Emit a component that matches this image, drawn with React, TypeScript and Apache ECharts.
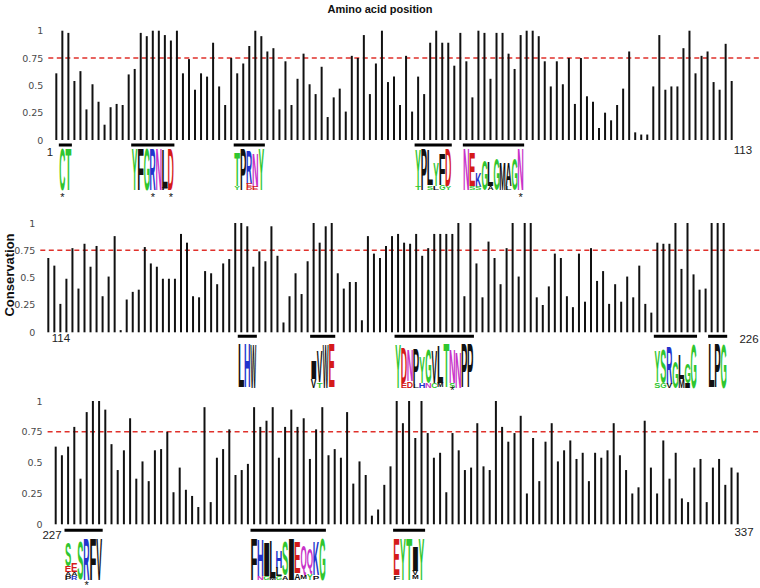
import React, { useEffect, useRef } from "react";
import * as echarts from "echarts";

const titleText = "Amino acid position";
const yAxisName = "Conservation";
const threshold = 0.75;

const panel1Start = 1;
const panel1Values = [
  0.61, 1.0, 0.98, 0.54, 0.63, 0.28, 0.51, 0.35, 0.14, 0.3,
  0.33, 0.32, 0.6, 0.65, 0.98, 0.95, 1.0, 1.0, 0.96, 0.91,
  1.0, 0.61, 0.74, 0.46, 0.61, 0.58, 0.89, 0.49, 0.32, 0.75,
  0.61, 0.7, 0.86, 1.0, 0.95, 0.81, 0.84, 0.28, 0.72, 0.32,
  0.56, 0.79, 0.51, 0.42, 0.67, 0.21, 0.39, 0.47, 0.26, 0.77,
  0.75, 0.96, 0.42, 0.7, 1.0, 0.53, 0.58, 0.32, 0.77, 0.26,
  0.58, 0.42, 0.89, 1.0, 0.89, 0.89, 0.68, 0.98, 0.72, 0.39,
  1.0, 0.98, 0.56, 0.98, 0.98, 0.79, 0.65, 0.96, 1.0, 1.0,
  0.95, 0.72, 0.49, 0.72, 0.51, 0.75, 0.33, 0.75, 0.4, 0.35,
  0.11, 0.25, 0.18, 0.32, 0.47, 0.81, 0.07, 0.05, 0.05, 0.49,
  0.96, 0.46, 0.49, 0.49, 0.84, 1.0, 0.61, 0.77, 0.81, 0.53,
  0.46, 0.88, 0.54,
];

const panel2Start = 114;
const panel2Values = [
  0.68, 0.61, 0.26, 0.49, 0.77, 0.4, 0.81, 0.6, 0.79, 0.33,
  0.51, 0.88, 0.02, 0.3, 0.37, 0.39, 0.78, 0.63, 0.6, 0.49,
  0.49, 0.49, 0.9, 0.82, 0.33, 0.32, 0.56, 0.54, 0.44, 0.63,
  0.67, 1.0, 1.0, 0.97, 0.6, 0.74, 0.65, 0.97, 0.7, 0.09,
  0.33, 0.54, 0.35, 0.65, 1.0, 0.82, 0.97, 1.0, 0.54, 0.4,
  0.46, 0.46, 0.11, 0.88, 0.72, 0.68, 0.79, 0.88, 0.9, 0.82,
  0.81, 0.9, 0.7, 0.77, 0.9, 0.9, 0.9, 0.9, 1.0, 0.33,
  1.0, 0.63, 0.32, 0.83, 0.68, 0.44, 0.77, 1.0, 0.51, 1.0,
  1.0, 0.32, 0.25, 0.42, 0.72, 0.68, 0.33, 0.23, 0.72, 0.28,
  0.77, 0.47, 0.56, 0.26, 0.44, 0.28, 0.51, 0.32, 0.61, 0.26,
  0.18, 0.82, 0.81, 0.81, 1.0, 0.58, 1.0, 0.53, 0.39, 0.4,
  1.0, 1.0, 1.0,
];

const panel3Start = 227;
const panel3Values = [
  0.63, 0.56, 0.63, 0.79, 0.37, 0.91, 1.0, 1.0, 0.93, 0.65,
  0.44, 0.6, 0.86, 0.37, 0.51, 0.35, 0.6, 0.61, 0.75, 0.26,
  0.46, 0.28, 0.23, 0.14, 0.95, 0.18, 0.54, 0.61, 0.77, 0.4,
  0.44, 0.49, 0.95, 0.79, 0.84, 0.95, 0.54, 0.79, 0.93, 0.79,
  0.86, 0.53, 0.77, 0.95, 0.56, 0.61, 0.54, 0.91, 0.33, 0.51,
  0.4, 0.07, 0.12, 0.32, 0.47, 1.0, 0.82, 1.0, 0.7, 1.0,
  0.74, 0.54, 0.58, 0.26, 0.74, 0.6, 0.44, 0.46, 0.82, 0.47,
  0.44, 1.0, 0.79, 0.67, 0.74, 0.88, 0.25, 0.7, 0.35, 0.67,
  0.82, 0.51, 0.6, 0.68, 0.53, 0.58, 0.35, 0.58, 0.54, 0.6,
  0.82, 0.56, 0.44, 0.25, 0.3, 0.84, 0.46, 0.25, 0.68, 0.37,
  0.58, 0.21, 0.18, 0.46, 0.53, 0.18, 0.46, 0.53, 0.32, 0.46,
  0.42,
];

// Sequence logos: panel index, first residue, stacked letters per column (top to bottom, % of full height)
const logos = [
  { panel: 0, start: 2, cols: ["C100", "T100"] },
  { panel: 0, start: 14, cols: ["Y100", "F100", "G100", "R100", "N100", "L92F5", "D100"] },
  { panel: 0, start: 31, cols: ["T80Y8", "P100", "R80E8D6", "N80E8", "Y100"] },
  { panel: 0, start: 61, cols: ["Y85T8", "P100", "L82S10", "Y55L10", "F75G12", "D88Y8"] },
  { panel: 0, start: 69, cols: ["N100", "E80S8", "K35S8", "G70", "L60A8", "G75", "M65", "A55L10", "G75", "N100"] },
  { panel: 1, start: 146, cols: ["L100", "H100", "W100"] },
  { panel: 1, start: 158, cols: ["I40V20", "V70T12", "W100", "E100"] },
  { panel: 1, start: 172, cols: ["Y100", "D80E10", "N70D15", "P80L8", "Y60H10", "G75N12", "V75C12", "L85M10", "T100", "N75S12", "N80", "P100", "P100"] },
  { panel: 1, start: 215, cols: ["Y70S12", "S75G12", "R85V10", "G60", "L55M20", "G45I12", "G100"] },
  { panel: 1, start: 224, cols: ["L100", "P100", "G100"] },
  { panel: 2, start: 229, cols: ["S55E14A8P10", "E20A10R8", "S88", "R100", "F100", "V100"] },
  { panel: 2, start: 259, cols: ["F100", "H85N8", "I80G8", "L90M5", "H40L20G8", "S80A10", "I100", "E75A15", "Q70M10", "Q60Y15", "K80P10", "G100"] },
  { panel: 2, start: 282, cols: ["E85F10", "Y100", "T100", "I60V12M10", "Y100"] },
];

const asterisks = [
  [0, 2], [0, 17], [0, 20], [0, 78],
  [1, 181],
  [2, 232],
];

const endLabels = [
  ["1", "113"],
  ["114", "226"],
  ["227", "337"],
];

const aaColors: Record<string, string> = {
  G: "#2fc62f", S: "#2fc62f", T: "#2fc62f", Y: "#2fc62f", C: "#2fc62f",
  N: "#c832c8", Q: "#c832c8",
  K: "#2233cc", R: "#2233cc", H: "#2233cc",
  D: "#d51a1a", E: "#d51a1a",
  A: "#111111", V: "#111111", L: "#111111", I: "#111111", P: "#111111",
  W: "#111111", F: "#111111", M: "#111111",
};

// layout
const panels = [
  { start: panel1Start, values: panel1Values, left: 53.3, width: 681.4, top: 30.7, height: 109.3,
    segGap: 5, logoGap: 3, logoH: 42, starGap: 57, startLabel: [50, 152], endLabel: [743, 150] },
  { start: panel2Start, values: panel2Values, left: 45.3, width: 681.4, top: 223, height: 109.3,
    segGap: 4, logoGap: 7.5, logoH: 44, starGap: 58, startLabel: [61, 338], endLabel: [749, 339] },
  { start: panel3Start, values: panel3Values, left: 52.6, width: 688.2, top: 401, height: 123.3,
    segGap: 6, logoGap: 7.5, logoH: 42, starGap: 61, startLabel: [52, 535], endLabel: [744, 532] },
];

const LETTER_FONT_SIZE = 40;
const LETTER_FONT = `bold ${LETTER_FONT_SIZE}px "Liberation Sans"`;

function parseCol(s: string): [string, number][] {
  const out: [string, number][] = [];
  const re = /([A-Z])(\d+)/g;
  let m: RegExpExecArray | null;
  while ((m = re.exec(s))) out.push([m[1], Number(m[2]) / 100]);
  return out;
}

export default function App() {
  const ref = useRef<HTMLDivElement>(null);
  useEffect(() => {
    if (!ref.current) return;
    const chart = echarts.init(ref.current, null, { renderer: "svg" });
    const option: any = {
      animation: false,
      grid: panels.map((p) => ({ left: p.left, top: p.top, width: p.width, height: p.height })),
      xAxis: panels.map((p, i) => ({
        type: "category",
        gridIndex: i,
        data: p.values.map((_, k) => String(p.start + k)),
        show: false,
      })),
      yAxis: panels.map((p, i) => ({
        type: "value",
        gridIndex: i,
        min: 0,
        max: 1,
        interval: 0.25,
        axisLine: { show: false },
        axisTick: { show: false },
        splitLine: { show: false },
        axisLabel: {
          color: "#4a4a4a",
          fontSize: 9.5,
          fontFamily: "DejaVu Sans",
          margin: 10,
          formatter: (v: number) => String(v),
        },
      })),
      series: panels.map((p, i) => ({
        type: "bar",
        xAxisIndex: i,
        yAxisIndex: i,
        data: p.values,
        barWidth: 2,
        itemStyle: { color: "#111" },
        silent: true,
      })),
    };
    chart.setOption(option);

    const ctx = document.createElement("canvas").getContext("2d")!;
    ctx.font = LETTER_FONT;

    const els: any[] = [];
    els.push({
      type: "text", x: 380, y: 9, silent: true,
      style: { text: titleText, font: 'bold 11px "Liberation Sans"', fill: "#111", align: "center", verticalAlign: "middle", textAlign: "center", textVerticalAlign: "middle" },
    });
    els.push({
      type: "text", x: 9, y: 275, rotation: Math.PI / 2, silent: true,
      style: { text: yAxisName, font: 'bold 13px "Liberation Sans"', fill: "#111", align: "center", verticalAlign: "middle", textAlign: "center", textVerticalAlign: "middle" },
    });

    const px = (pi: number, resIdx: number, v: number) =>
      chart.convertToPixel({ gridIndex: pi }, [resIdx, v]) as number[];

    panels.forEach((p, i) => {
      const y75 = px(i, 0, threshold)[1];
      els.push({
        type: "line", silent: true,
        shape: { x1: p.left - 5, y1: y75, x2: 760, y2: y75 },
        style: { stroke: "#e0312b", lineWidth: 1.5, lineDash: [5, 3.5] },
      });
      const [l1, l2] = endLabels[i];
      els.push({ type: "text", x: p.startLabel[0], y: p.startLabel[1], silent: true,
        style: { text: l1, font: '11.5px "Liberation Sans"', fill: "#222", align: "center", verticalAlign: "middle", textAlign: "center", textVerticalAlign: "middle" } });
      els.push({ type: "text", x: p.endLabel[0], y: p.endLabel[1], silent: true,
        style: { text: l2, font: '11.5px "Liberation Sans"', fill: "#222", align: "center", verticalAlign: "middle", textAlign: "center", textVerticalAlign: "middle" } });
    });

    const letterEl = (ch: string, cx: number, top: number, w: number, h: number) => {
      const m = ctx.measureText(ch);
      const inkL = m.actualBoundingBoxLeft, inkR = m.actualBoundingBoxRight;
      const aA = m.actualBoundingBoxAscent, aD = m.actualBoundingBoxDescent;
      const fA = m.fontBoundingBoxAscent, fD = m.fontBoundingBoxDescent;
      const inkW = Math.max(1, inkL + inkR), inkH = Math.max(1, aA + aD);
      const baseline = (fA - fD) / 2;
      const inkCY = baseline + (aD - aA) / 2;
      return {
        type: "text", x: cx, y: top + h / 2, scaleX: w / inkW, scaleY: h / inkH, silent: true,
        style: {
          text: ch, x: -(inkR - inkL) / 2, y: -inkCY, font: LETTER_FONT,
          fill: aaColors[ch] || "#111", align: "left", verticalAlign: "middle",
          textAlign: "left", textVerticalAlign: "middle",
        },
      };
    };

    logos.forEach((lg) => {
      const p = panels[lg.panel];
      const base = px(lg.panel, 0, 0)[1];
      const first = px(lg.panel, lg.start - p.start, 0)[0];
      const last = px(lg.panel, lg.start - p.start + lg.cols.length - 1, 0)[0];
      const step = p.width / p.values.length;
      els.push({
        type: "rect", silent: true,
        shape: { x: first - step / 2 - 0.5, y: base + p.segGap - 1.5, width: last - first + step + 1, height: 3 },
        style: { fill: "#000" },
      });
      const logoBottom = base + p.segGap + p.logoGap + p.logoH;
      lg.cols.forEach((c, k) => {
        const cx = px(lg.panel, lg.start - p.start + k, 0)[0];
        const stack = parseCol(c);
        let total = 0;
        stack.forEach((s) => (total += s[1] * p.logoH));
        let top = logoBottom - total;
        stack.forEach(([ch, f]) => {
          const h = f * p.logoH;
          if (h >= 1) els.push(letterEl(ch, cx, top, step * 0.95, h));
          top += h;
        });
      });
    });

    asterisks.forEach(([pi, res]) => {
      const p = panels[pi];
      const [x, base] = px(pi, res - p.start, 0);
      els.push({ type: "text", x, y: base + p.starGap, silent: true,
        style: { text: "*", font: '11px "Liberation Sans"', fill: "#111", align: "center", verticalAlign: "middle", textAlign: "center", textVerticalAlign: "middle" } });
    });

    chart.setOption({ graphic: { elements: els } });
    return () => chart.dispose();
  }, []);
  return <div ref={ref} style={{ width: 760, height: 588, position: "absolute", left: 0, top: 0 }} />;
}
